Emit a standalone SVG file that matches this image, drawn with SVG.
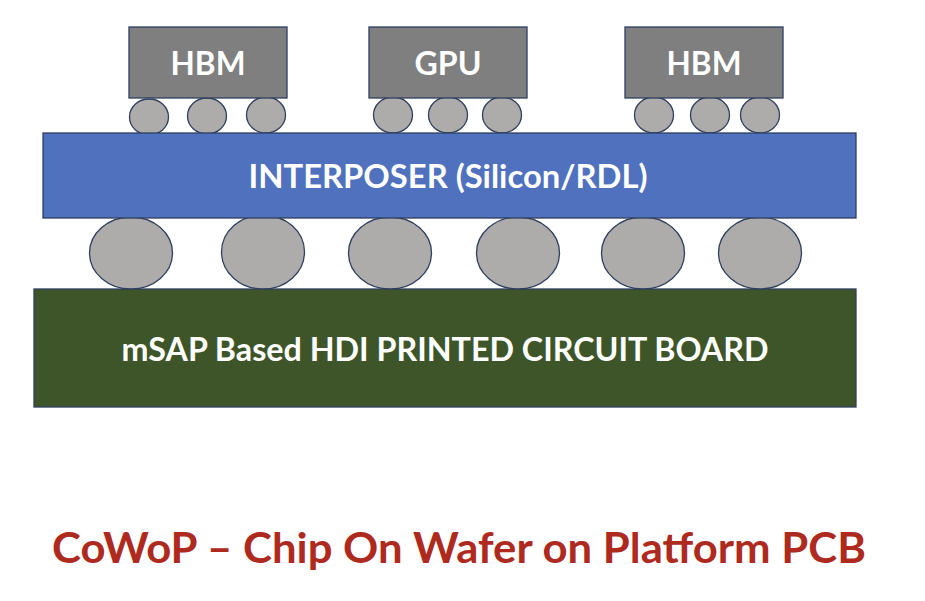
<svg xmlns="http://www.w3.org/2000/svg" width="925" height="601" viewBox="0 0 925 601">
<style>
.chip{fill:#7F7F7F;stroke:#2F3F5F;stroke-width:1.3}
.ball{fill:#AEACAB;stroke:#2F3F5F;stroke-width:1.3}
.lbl{font-family:Lato,"Open Sans","Liberation Sans",sans-serif;font-weight:bold;fill:#FFFFFF;text-anchor:middle}
</style>
<rect width="925" height="601" fill="#FFFFFF"/>
<g id="pcb">
<rect x="34" y="289" width="822" height="118" fill="#3E5529" stroke="#2F3F5F" stroke-width="1.3"/>
<text class="lbl" x="445" y="361" font-size="32" textLength="647" lengthAdjust="spacingAndGlyphs">mSAP Based HDI PRINTED CIRCUIT BOARD</text>
</g>
<g id="bumps-large">
<ellipse class="ball" cx="131" cy="253" rx="41.5" ry="36"/>
<ellipse class="ball" cx="263" cy="252" rx="41.5" ry="37"/>
<ellipse class="ball" cx="390" cy="253" rx="41.5" ry="36"/>
<ellipse class="ball" cx="518" cy="253" rx="41.5" ry="36"/>
<ellipse class="ball" cx="643" cy="253" rx="41.5" ry="36"/>
<ellipse class="ball" cx="760" cy="253" rx="41.5" ry="36"/>
</g>
<g id="bumps-small">
<ellipse class="ball" cx="149" cy="117" rx="19.5" ry="18"/>
<ellipse class="ball" cx="207" cy="116" rx="19.5" ry="18"/>
<ellipse class="ball" cx="266" cy="115" rx="19.5" ry="18"/>
<ellipse class="ball" cx="393" cy="115" rx="19.5" ry="18"/>
<ellipse class="ball" cx="448" cy="115" rx="19.5" ry="18"/>
<ellipse class="ball" cx="502" cy="115" rx="19.5" ry="18"/>
<ellipse class="ball" cx="654" cy="115" rx="19.5" ry="18"/>
<ellipse class="ball" cx="710" cy="115" rx="19.5" ry="18"/>
<ellipse class="ball" cx="760" cy="115" rx="19.5" ry="18"/>
</g>
<g id="interposer">
<rect x="43" y="133" width="813" height="85" fill="#4F71BE" stroke="#2F3F5F" stroke-width="1.3"/>
<text class="lbl" x="448" y="188" font-size="33" textLength="399" lengthAdjust="spacingAndGlyphs">INTERPOSER (Silicon/RDL)</text>
</g>
<g id="hbm1">
<rect class="chip" x="129" y="27" width="158" height="71"/>
<text class="lbl" x="208" y="75" font-size="32" textLength="75" lengthAdjust="spacingAndGlyphs">HBM</text>
</g>
<g id="gpu">
<rect class="chip" x="369" y="27" width="158" height="71"/>
<text class="lbl" x="448" y="75" font-size="32" textLength="67" lengthAdjust="spacingAndGlyphs">GPU</text>
</g>
<g id="hbm2">
<rect class="chip" x="625" y="27" width="158" height="71"/>
<text class="lbl" x="704" y="75" font-size="32" textLength="75" lengthAdjust="spacingAndGlyphs">HBM</text>
</g>
<g id="title">
<text x="459" y="563" font-family="Lato,'Open Sans','Liberation Sans',sans-serif" font-weight="bold" font-size="42" fill="#AE2A1E" text-anchor="middle" textLength="814" lengthAdjust="spacingAndGlyphs">CoWoP – Chip On Wafer on Platform PCB</text>
</g>
</svg>
